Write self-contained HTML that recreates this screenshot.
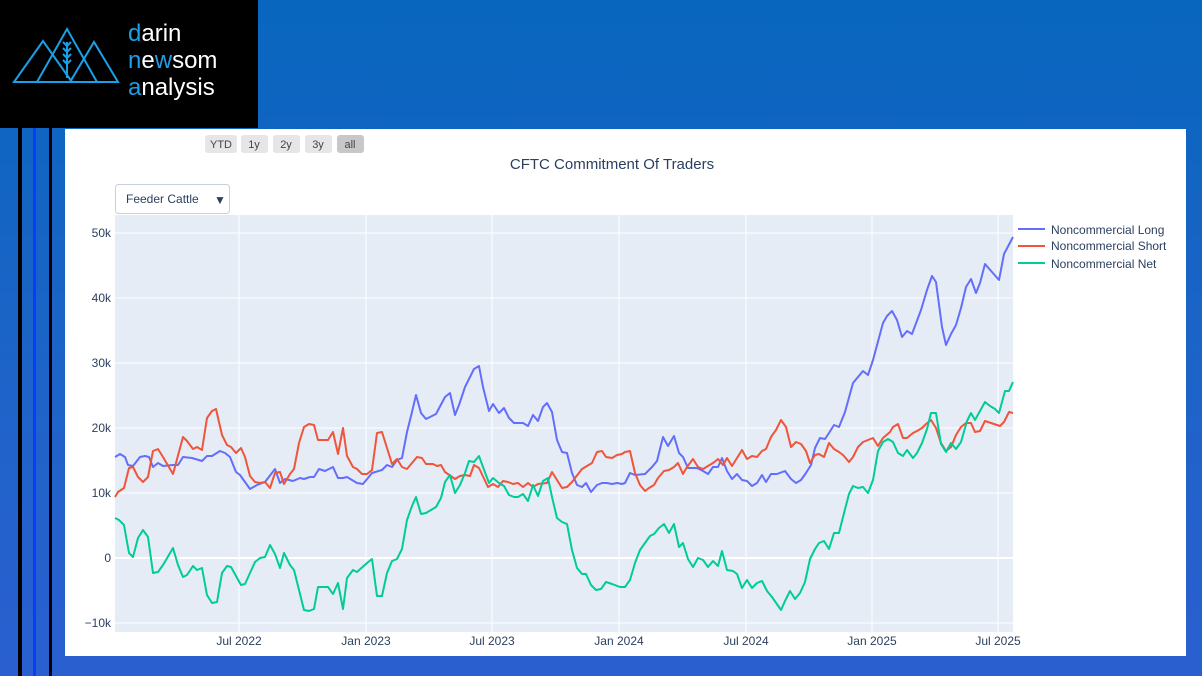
<!DOCTYPE html>
<html><head><meta charset="utf-8"><style>
html,body{margin:0;padding:0;width:1202px;height:676px;overflow:hidden;font-family:"Liberation Sans",sans-serif;}
body{background:linear-gradient(180deg,#0866be 0%,#1f63c9 60%,#2a5fd0 100%);position:relative;}
.abs{position:absolute;}
</style></head><body>
<div class="abs" style="left:0;top:0;width:258px;height:128px;background:#000;"></div>
<div class="abs" style="left:18px;top:128px;width:4px;height:548px;background:#000;"></div>
<div class="abs" style="left:33px;top:128px;width:3px;height:548px;background:#0a3cff;"></div>
<div class="abs" style="left:49px;top:128px;width:3px;height:548px;background:#000;"></div>
<svg class="abs" style="left:0;top:0" width="258" height="128">
<g fill="none" stroke="#1aa0e8" stroke-width="2">
<polygon points="14,82 43,41 72,82"/>
<polygon points="37,82 67,29 97,82"/>
<polygon points="70,82 94,42 118,82"/>
<line x1="67" y1="42" x2="67" y2="78"/>
<path d="M67,46 l-4,-4 M67,52 l-4,-4 M67,58 l-4,-4 M67,64 l-4,-4 M67,46 l4,-4 M67,52 l4,-4 M67,58 l4,-4 M67,64 l4,-4"/>
</g>
<g font-family="Liberation Sans,sans-serif" font-size="24" fill="#fff">
<text x="128" y="41"><tspan fill="#1aa0e8">d</tspan>arin</text>
<text x="128" y="68"><tspan fill="#1aa0e8">n</tspan>e<tspan fill="#1aa0e8">w</tspan>som</text>
<text x="128" y="95"><tspan fill="#1aa0e8">a</tspan>nalysis</text>
</g>
</svg>
<div class="abs" style="left:65px;top:129px;width:1121px;height:527px;background:#fff;"></div>
<svg class="abs" style="left:0;top:0" width="1202" height="676" font-family="Liberation Sans,sans-serif">
<g font-size="11" fill="#444" text-anchor="middle">
<rect x="205" y="135" width="32" height="18" rx="3" fill="#e6e6e6"/><text x="221" y="148">YTD</text>
<rect x="241" y="135" width="27" height="18" rx="3" fill="#e6e6e6"/><text x="254" y="148">1y</text>
<rect x="273" y="135" width="27" height="18" rx="3" fill="#e6e6e6"/><text x="286" y="148">2y</text>
<rect x="305" y="135" width="27" height="18" rx="3" fill="#e6e6e6"/><text x="318" y="148">3y</text>
<rect x="337" y="135" width="27" height="18" rx="3" fill="#c8c8c8"/><text x="350" y="148">all</text>
</g>
<text x="612" y="169" font-size="15" fill="#2a3f5f" text-anchor="middle">CFTC Commitment Of Traders</text>
<rect x="115.5" y="184.5" width="114" height="29" rx="3" fill="#fff" stroke="#c8d0dc"/>
<text x="126" y="203" font-size="12" fill="#2a3f5f">Feeder Cattle</text>
<text x="214" y="204" font-size="12" fill="#2a3f5f">▼</text>
<rect x="115" y="215" width="898" height="417" fill="#e5ecf6"/>
<g stroke="#fff" stroke-width="1">
<line x1="115" x2="1013" y1="233" y2="233"/><line x1="115" x2="1013" y1="298" y2="298"/>
<line x1="115" x2="1013" y1="363" y2="363"/><line x1="115" x2="1013" y1="428" y2="428"/>
<line x1="115" x2="1013" y1="493" y2="493"/><line x1="115" x2="1013" y1="623" y2="623"/>
<line y1="215" y2="632" x1="239" x2="239"/><line y1="215" y2="632" x1="366" x2="366"/>
<line y1="215" y2="632" x1="492" x2="492"/><line y1="215" y2="632" x1="619" x2="619"/>
<line y1="215" y2="632" x1="746" x2="746"/><line y1="215" y2="632" x1="872" x2="872"/>
<line y1="215" y2="632" x1="998" x2="998"/>
</g>
<line x1="115" x2="1013" y1="558" y2="558" stroke="#fff" stroke-width="2"/>
<g font-size="12" fill="#2a3f5f" text-anchor="end">
<text x="111" y="237">50k</text><text x="111" y="302">40k</text><text x="111" y="367">30k</text>
<text x="111" y="432">20k</text><text x="111" y="497">10k</text><text x="111" y="562">0</text><text x="111" y="627">−10k</text>
</g>
<g font-size="12" fill="#2a3f5f" text-anchor="middle">
<text x="239" y="645">Jul 2022</text><text x="366" y="645">Jan 2023</text><text x="492" y="645">Jul 2023</text>
<text x="619" y="645">Jan 2024</text><text x="746" y="645">Jul 2024</text><text x="872" y="645">Jan 2025</text><text x="998" y="645">Jul 2025</text>
</g>
<g fill="none" stroke-width="2" stroke-linejoin="round">
<polyline stroke="#636efa" points="115,457 120,454 125,457 128,465 133,466 140,457 145,456 149,457 153,467 158,463 163,466 173,465 178,465 183,457 192,458 202,461 207,456 212,456 220,451 225,453 230,457 236,472 240,475 250,489 257,485 265,482 275,469 280,483 285,479 293,481 300,478 304,479 310,477 314,477 319,469 325,471 333,467 338,478 343,478 347,477 357,483 363,484 372,473 382,470 387,465 392,467 397,460 402,458 407,432 412,412 416,395 421,413 426,419 432,416 436,414 445,397 450,393 455,415 459,405 465,387 474,369 479,366 483,387 489,411 493,404 499,413 504,408 509,418 514,423 523,423 528,426 533,415 538,421 543,407 547,403 552,412 557,440 562,452 567,453 572,473 577,485 582,487 586,483 591,492 597,485 602,483 607,483 612,484 617,483 622,484 625,483 630,473 635,475 645,474 652,467 657,461 663,437 668,446 674,436 679,453 683,457 688,468 697,468 703,471 708,474 713,467 718,467 722,458 727,471 732,479 737,474 742,480 747,481 752,486 757,483 762,475 766,482 771,474 777,474 785,471 791,479 796,483 801,480 806,473 811,465 815,448 820,438 825,439 829,433 834,425 839,427 845,412 853,383 863,371 868,375 873,360 883,323 887,316 892,311 897,320 902,337 907,331 912,334 921,310 927,290 932,276 936,282 942,327 946,345 951,334 956,325 961,308 966,287 971,279 976,293 980,283 985,264 999,280 1004,254 1013,237"/>
<polyline stroke="#ef553b" points="115,497 118,492 124,488 129,468 133,467 138,477 143,482 148,477 153,451 158,449 163,457 173,474 183,437 187,441 193,449 197,447 202,450 207,418 212,411 216,409 222,435 227,445 231,447 236,453 241,448 245,457 250,476 255,482 260,483 265,482 270,488 275,473 280,472 284,484 290,474 294,469 299,443 304,427 309,424 314,425 318,440 328,440 333,432 338,454 343,428 347,456 353,467 357,469 362,474 367,474 372,470 377,433 382,432 387,448 392,464 397,459 402,467 407,469 412,463 417,457 422,458 426,464 433,464 437,466 441,465 445,472 455,479 460,476 465,475 470,476 474,465 479,468 488,487 493,484 498,487 503,481 508,482 513,484 518,483 523,487 528,483 533,487 538,484 547,483 552,472 557,480 562,488 567,487 572,482 582,469 587,466 592,463 597,452 602,451 606,457 612,458 617,455 622,454 625,452 630,451 635,473 640,485 645,491 649,488 654,485 658,478 664,471 669,470 674,467 678,463 683,474 687,467 693,459 698,467 703,469 708,466 713,463 718,459 723,465 727,458 732,466 737,458 742,450 747,459 752,456 757,457 762,451 766,449 771,437 776,430 781,420 786,427 791,447 796,442 801,444 806,451 810,463 815,455 819,454 824,457 829,443 834,449 839,452 843,455 849,462 853,457 858,447 863,442 868,440 873,438 878,446 883,438 890,432 893,427 898,424 903,438 907,438 913,433 917,431 922,428 926,424 931,420 936,428 941,443 946,451 951,447 956,435 961,427 966,423 971,423 975,432 980,431 985,421 991,423 1000,426 1004,422 1009,412 1013,413"/>
<polyline stroke="#00cc96" points="115,518 119,520 124,525 129,553 133,557 138,538 143,530 148,537 153,573 158,572 163,565 173,548 178,565 183,577 187,575 193,566 197,570 202,568 207,595 212,603 217,602 222,573 227,566 231,567 241,585 245,584 255,562 260,558 265,557 270,545 275,554 280,568 284,553 290,565 294,570 299,590 304,610 309,611 314,609 318,587 328,587 333,594 338,583 343,609 347,578 353,570 357,572 367,563 372,559 377,596 382,596 387,573 392,561 397,559 402,549 407,520 412,506 416,497 421,514 426,513 436,507 441,498 445,482 450,475 455,493 460,485 465,473 469,461 474,462 479,456 483,467 489,483 493,478 499,483 504,486 509,495 514,497 518,497 523,494 528,501 533,485 538,496 543,481 548,478 552,497 557,518 562,522 567,524 572,550 577,568 582,574 586,574 591,585 596,590 601,589 606,582 612,584 620,587 625,587 630,580 635,563 640,550 645,543 650,536 654,534 659,528 664,524 669,533 674,524 679,547 683,543 688,559 693,567 698,558 703,560 708,567 713,561 718,566 722,551 727,570 733,571 737,574 742,588 747,580 752,588 757,583 762,581 767,591 772,597 781,610 785,601 790,591 795,599 800,593 805,582 810,559 815,549 819,543 824,541 829,549 834,533 839,533 843,517 849,494 853,486 858,488 863,487 868,493 873,480 878,451 883,442 888,439 893,442 898,453 903,456 907,450 913,458 917,453 922,443 927,429 931,413 936,413 941,444 946,452 951,443 956,449 961,442 967,421 971,413 975,420 980,411 985,402 990,406 995,409 999,413 1005,391 1009,391 1013,382"/>
</g>
<g font-size="12" fill="#2a3f5f">
<line x1="1018" x2="1045" y1="229" y2="229" stroke="#636efa" stroke-width="2"/><text x="1051" y="234">Noncommercial Long</text>
<line x1="1018" x2="1045" y1="246" y2="246" stroke="#ef553b" stroke-width="2"/><text x="1051" y="250">Noncommercial Short</text>
<line x1="1018" x2="1045" y1="263" y2="263" stroke="#00cc96" stroke-width="2"/><text x="1051" y="268">Noncommercial Net</text>
</g>
</svg>
</body></html>
